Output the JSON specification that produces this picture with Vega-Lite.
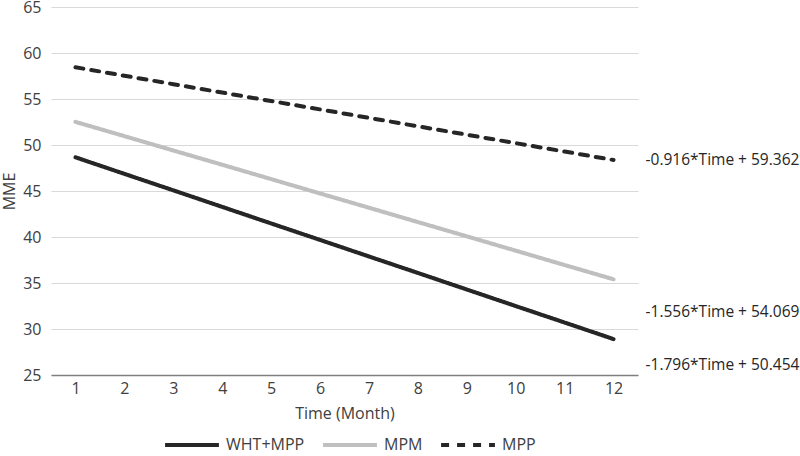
{
  "$schema": "https://vega.github.io/schema/vega-lite/v6.json",
  "width": 587,
  "height": 368,
  "autosize": "none",
  "padding": {"left": 51, "top": 7, "right": 162, "bottom": 81},
  "background": "white",
  "config": {
    "view": {"stroke": null},
    "font": "Open Sans",
    "axis": {"labelFont": "Open Sans", "titleFont": "Open Sans", "labelColor": "#404040", "titleColor": "#404040", "titleFontWeight": "normal"}
  },
  "datasets": {
    "lines": [
      {"month": 1, "series": "WHT+MPP", "mme": 48.66},
      {"month": 2, "series": "WHT+MPP", "mme": 46.86},
      {"month": 3, "series": "WHT+MPP", "mme": 45.07},
      {"month": 4, "series": "WHT+MPP", "mme": 43.27},
      {"month": 5, "series": "WHT+MPP", "mme": 41.47},
      {"month": 6, "series": "WHT+MPP", "mme": 39.68},
      {"month": 7, "series": "WHT+MPP", "mme": 37.88},
      {"month": 8, "series": "WHT+MPP", "mme": 36.09},
      {"month": 9, "series": "WHT+MPP", "mme": 34.29},
      {"month": 10, "series": "WHT+MPP", "mme": 32.49},
      {"month": 11, "series": "WHT+MPP", "mme": 30.7},
      {"month": 12, "series": "WHT+MPP", "mme": 28.9},
      {"month": 1, "series": "MPM", "mme": 52.51},
      {"month": 2, "series": "MPM", "mme": 50.96},
      {"month": 3, "series": "MPM", "mme": 49.4},
      {"month": 4, "series": "MPM", "mme": 47.85},
      {"month": 5, "series": "MPM", "mme": 46.29},
      {"month": 6, "series": "MPM", "mme": 44.73},
      {"month": 7, "series": "MPM", "mme": 43.18},
      {"month": 8, "series": "MPM", "mme": 41.62},
      {"month": 9, "series": "MPM", "mme": 40.07},
      {"month": 10, "series": "MPM", "mme": 38.51},
      {"month": 11, "series": "MPM", "mme": 36.95},
      {"month": 12, "series": "MPM", "mme": 35.4},
      {"month": 1, "series": "MPP", "mme": 58.45},
      {"month": 2, "series": "MPP", "mme": 57.53},
      {"month": 3, "series": "MPP", "mme": 56.61},
      {"month": 4, "series": "MPP", "mme": 55.7},
      {"month": 5, "series": "MPP", "mme": 54.78},
      {"month": 6, "series": "MPP", "mme": 53.87},
      {"month": 7, "series": "MPP", "mme": 52.95},
      {"month": 8, "series": "MPP", "mme": 52.03},
      {"month": 9, "series": "MPP", "mme": 51.12},
      {"month": 10, "series": "MPP", "mme": 50.2},
      {"month": 11, "series": "MPP", "mme": 49.29},
      {"month": 12, "series": "MPP", "mme": 48.37}
    ],
    "labels": [
      {"month": 12, "mme": 48.37, "text": "-0.916*Time + 59.362"},
      {"month": 12, "mme": 31.8, "text": "-1.556*Time + 54.069"},
      {"month": 12, "mme": 26.1, "text": "-1.796*Time + 50.454"}
    ]
  },
  "layer": [
    {
      "data": {"name": "lines"},
      "mark": {"type": "line", "strokeWidth": 4, "strokeCap": "round"},
      "encoding": {
        "x": {
          "field": "month", "type": "ordinal",
          "scale": {"type": "point", "padding": 0.5},
          "axis": {"title": "Time (Month)", "labelAngle": 0, "labelFontSize": 16, "titleFontSize": 16, "labelPadding": 5, "titlePadding": 9, "ticks": false, "domainColor": "#7f7f7f", "domainWidth": 1.5, "grid": false}
        },
        "y": {
          "field": "mme", "type": "quantitative",
          "scale": {"domain": [25, 65], "nice": false, "zero": false},
          "axis": {"title": "MME", "values": [25, 30, 35, 40, 45, 50, 55, 60, 65], "labelFontSize": 16, "titleFontSize": 16, "labelPadding": 10, "titlePadding": 5, "domain": false, "ticks": false, "gridColor": "#d9d9d9", "gridWidth": 1}
        },
        "color": {
          "field": "series", "type": "nominal",
          "scale": {"domain": ["WHT+MPP", "MPM", "MPP"], "range": ["#262626", "#bfbfbf", "#262626"]},
          "legend": {
            "title": null, "orient": "none", "direction": "horizontal",
            "legendX": 112, "legendY": 409,
            "symbolType": "stroke", "symbolSize": 2900, "symbolStrokeWidth": 4,
            "labelFontSize": 16, "labelColor": "#404040", "labelOffset": 5, "columnPadding": 10
          }
        },
        "strokeDash": {
          "field": "series", "type": "nominal",
          "scale": {"domain": ["WHT+MPP", "MPM", "MPP"], "range": [[1, 0], [1, 0], [8, 8]]},
          "legend": null
        }
      }
    },
    {
      "data": {"name": "labels"},
      "mark": {"type": "text", "align": "left", "baseline": "middle", "dx": 32, "fontSize": 15.5, "color": "#262626"},
      "encoding": {
        "x": {"field": "month", "type": "ordinal"},
        "y": {"field": "mme", "type": "quantitative"},
        "text": {"field": "text"}
      }
    }
  ]
}
